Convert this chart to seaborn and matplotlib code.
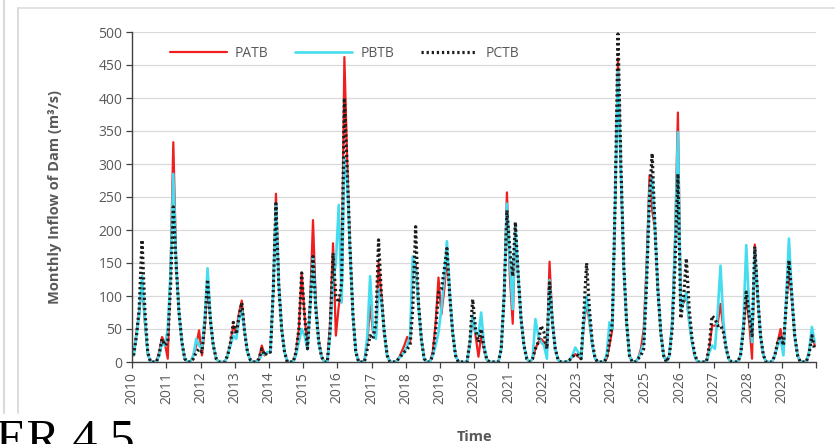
import numpy as np
import pandas as pd
import matplotlib
matplotlib.use("Agg")
import matplotlib.pyplot as plt
from matplotlib.lines import Line2D
import seaborn as sns

# monthly inflow (m3/s), one row per year Jan..Dec, 2010-2029
patb = [
    10, 45, 75, 120, 60, 12, 0, 0, 0, 15, 38, 28,        # 2010
    5, 150, 333, 150, 75, 30, 5, 0, 0, 10, 25, 48,       # 2011
    10, 55, 120, 60, 25, 5, 0, 0, 0, 10, 30, 55,         # 2012
    45, 75, 93, 45, 15, 3, 0, 0, 5, 25, 10, 15,          # 2013
    15, 110, 255, 120, 50, 15, 0, 0, 0, 15, 50, 135,     # 2014
    70, 20, 90, 215, 90, 35, 8, 0, 0, 60, 180, 40,       # 2015
    85, 110, 462, 300, 170, 70, 15, 0, 0, 0, 30, 86,     # 2016
    45, 40, 150, 100, 45, 10, 0, 0, 0, 5, 15, 25,        # 2017
    38, 30, 140, 150, 90, 35, 5, 0, 0, 15, 60, 128,      # 2018
    72, 110, 160, 100, 45, 10, 0, 0, 0, 0, 30, 70,       # 2019
    40, 8, 40, 20, 3, 0, 0, 0, 0, 20, 100, 257,          # 2020
    130, 58, 200, 130, 65, 25, 5, 0, 5, 20, 30, 35,      # 2021
    30, 15, 152, 60, 20, 3, 0, 0, 0, 3, 8, 12,           # 2022
    8, 5, 55, 90, 60, 25, 5, 0, 0, 0, 5, 25,             # 2023
    50, 250, 460, 290, 145, 60, 10, 0, 0, 5, 20, 50,     # 2024
    150, 283, 230, 200, 110, 45, 10, 0, 10, 60, 190, 378,  # 2025
    85, 90, 100, 60, 30, 8, 0, 0, 0, 0, 20, 55,          # 2026
    55, 60, 88, 50, 20, 3, 0, 0, 0, 10, 50, 100,         # 2027
    60, 5, 178, 100, 40, 10, 0, 0, 0, 10, 30, 50,        # 2028
    20, 90, 140, 95, 40, 10, 0, 0, 0, 15, 45, 25,        # 2029
]

pbtb = [
    10, 40, 70, 130, 65, 12, 0, 0, 0, 10, 30, 25,
    50, 140, 285, 145, 75, 30, 5, 0, 0, 10, 35, 25,
    20, 70, 142, 65, 25, 5, 0, 0, 0, 10, 25, 40,
    35, 65, 80, 45, 15, 3, 0, 0, 3, 12, 12, 15,
    15, 110, 240, 115, 50, 15, 0, 0, 0, 10, 30, 50,
    40, 20, 80, 160, 80, 30, 8, 0, 0, 40, 120, 150,
    238, 90, 310, 270, 165, 70, 15, 0, 0, 0, 40, 130,
    50, 35, 110, 90, 45, 10, 0, 0, 0, 5, 10, 15,
    25, 40, 160, 140, 85, 35, 5, 0, 0, 10, 25, 45,
    80, 130, 183, 105, 45, 10, 0, 0, 0, 0, 25, 70,
    45, 40, 75, 25, 3, 0, 0, 0, 0, 20, 100, 240,
    150, 80, 205, 130, 65, 25, 5, 0, 5, 65, 40, 30,
    25, 5, 124, 60, 20, 3, 0, 0, 0, 3, 10, 22,
    15, 5, 60, 100, 65, 25, 5, 0, 0, 0, 10, 60,
    50, 250, 440, 290, 145, 60, 10, 0, 0, 5, 15, 30,
    130, 260, 280, 200, 110, 45, 10, 0, 10, 60, 180, 348,
    80, 95, 105, 60, 30, 8, 0, 0, 0, 0, 15, 25,
    20, 80, 146, 60, 20, 3, 0, 0, 0, 10, 60, 177,
    80, 30, 170, 100, 40, 10, 0, 0, 0, 10, 25, 35,
    10, 100, 187, 100, 40, 10, 0, 0, 0, 15, 53, 30,
]

pctb = [
    10, 40, 80, 185, 80, 15, 0, 0, 0, 12, 35, 25,
    30, 120, 235, 145, 75, 30, 5, 0, 0, 5, 15, 20,
    15, 60, 125, 62, 25, 5, 0, 0, 0, 10, 30, 60,
    42, 70, 90, 45, 15, 3, 0, 0, 5, 20, 10, 15,
    15, 110, 240, 115, 50, 15, 0, 0, 0, 15, 50, 135,
    70, 20, 85, 160, 80, 30, 8, 0, 0, 50, 165, 100,
    90, 120, 400, 290, 170, 70, 15, 0, 0, 0, 20, 40,
    35, 60, 185, 100, 45, 10, 0, 0, 0, 5, 10, 15,
    20, 25, 80, 205, 90, 35, 5, 0, 0, 10, 50, 105,
    110, 140, 172, 100, 45, 10, 0, 0, 0, 0, 30, 95,
    50, 30, 50, 20, 3, 0, 0, 0, 0, 20, 100, 230,
    170, 130, 212, 130, 65, 25, 5, 0, 5, 20, 30, 55,
    45, 20, 120, 60, 20, 3, 0, 0, 0, 3, 8, 12,
    10, 5, 70, 150, 80, 30, 5, 0, 0, 0, 5, 30,
    60, 250, 497, 300, 150, 60, 10, 0, 0, 5, 10, 20,
    120, 250, 316, 200, 110, 45, 10, 0, 10, 50, 150, 285,
    66, 100, 157, 80, 35, 10, 0, 0, 0, 0, 25, 70,
    65, 55, 56, 45, 20, 3, 0, 0, 0, 10, 50, 106,
    70, 40, 175, 100, 40, 10, 0, 0, 0, 10, 30, 40,
    25, 90, 154, 100, 40, 10, 0, 0, 0, 12, 40, 18,
]

series_names = ["PATB", "PBTB", "PCTB"]
year_labels = [str(y) for y in range(2010, 2030)] + [""]
y_ticks = list(range(0, 501, 50))

# points sit mid-month, ticks on the year boundaries
months = pd.date_range("2010-01-01", periods=240, freq="MS") + pd.Timedelta(days=15)
year_ticks = pd.date_range("2010-01-01", "2030-01-01", freq="YS")

df = pd.DataFrame({"Time": months, "PATB": patb, "PBTB": pbtb, "PCTB": pctb})

sns.set_theme(style="white")
plt.rcParams["font.family"] = ["Open Sans", "DejaVu Sans"]

grey = "#595959"
styles = {
    "PATB": dict(color="#F01E1E", linewidth=1.6, linestyle="-"),
    "PBTB": dict(color="#45DCEF", linewidth=1.9, linestyle="-"),
    "PCTB": dict(color="#1C1C1C", linewidth=2.3, linestyle=(0, (0.7, 0.9))),
}

fig = plt.figure(figsize=(8.35, 4.44), dpi=100)
ax = fig.add_axes([132.2 / 835, 1 - 362 / 444, 684 / 835, 330 / 444])

for name in series_names:
    sns.lineplot(data=df, x="Time", y=name, ax=ax, label=name, **styles[name])

ax.set_ylim(0, 500)
ax.set_yticks(y_ticks)
ax.set_xlim(year_ticks[0], year_ticks[-1])
ax.set_xticks(year_ticks)
ax.set_xticklabels(year_labels, rotation=90)

ax.grid(axis="y", color="#D9D9D9", linewidth=0.9)
ax.grid(axis="x", visible=False)
ax.set_axisbelow(True)
for side in ["top", "right"]:
    ax.spines[side].set_visible(False)
for side in ["left", "bottom"]:
    ax.spines[side].set_color("#404040")
    ax.spines[side].set_linewidth(1.0)

ax.tick_params(axis="both", which="major", direction="out", length=4, width=0.9,
               color="#404040", labelcolor=grey, labelsize=10, pad=3,
               left=True, bottom=True)

ax.set_ylabel("Monthly Inflow of Dam (m³/s)", fontsize=10.5, fontweight="bold", color=grey)
ax.set_xlabel("Time", fontsize=10.5, fontweight="bold", color=grey)
ax.yaxis.set_label_coords((62 - 132.2) / 684, 0.5)
ax.xaxis.set_label_coords(0.5, (362 - 430) / 330)

leg = ax.legend(ncol=3, frameon=False, loc="center left", bbox_to_anchor=(0.055, 0.936),
                handlelength=4.1, handletextpad=0.6, columnspacing=1.9, fontsize=10,
                borderpad=0, borderaxespad=0)
for t in leg.get_texts():
    t.set_color(grey)

# chart border and page remnants from the screenshot
fig.add_artist(Line2D([18 / 835, 18 / 835], [1 - 413 / 444, 1 - 8 / 444],
                      transform=fig.transFigure, color="#D4D4D4", linewidth=1.2))
fig.add_artist(Line2D([18 / 835, 1], [1 - 8 / 444, 1 - 8 / 444],
                      transform=fig.transFigure, color="#DDDDDD", linewidth=1.2))
fig.add_artist(Line2D([4 / 835, 4 / 835], [1 - 413 / 444, 1],
                      transform=fig.transFigure, color="#DADADA", linewidth=1.5))
fig.text(-4 / 835, -9 / 444, "ER 4.5", fontsize=36, color="black",
         family=["Liberation Serif", "DejaVu Serif"], va="baseline", ha="left")

fig.savefig("out.png", dpi=100)
